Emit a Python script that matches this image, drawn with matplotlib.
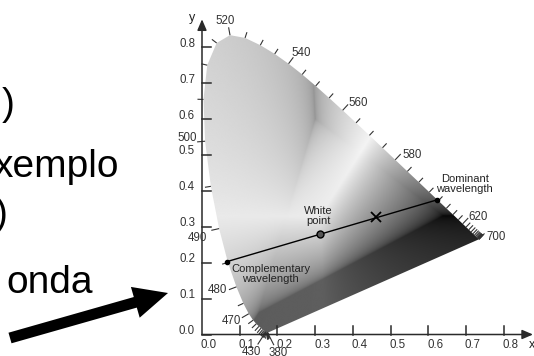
import numpy as np
import matplotlib
matplotlib.use("Agg")
import matplotlib.pyplot as plt
from matplotlib.patches import Polygon, FancyArrow

plt.rcParams['font.family'] = ['Liberation Sans', 'DejaVu Sans']

# CIE 1931 spectral locus (2 degree observer), 5 nm steps
wavelength_nm = list(range(380, 705, 5))
locus_x = [0.1741, 0.1740, 0.1738, 0.1736, 0.1733, 0.1730, 0.1726, 0.1721, 0.1714, 0.1703,
           0.1689, 0.1669, 0.1644, 0.1611, 0.1566, 0.1510, 0.1440, 0.1355, 0.1241, 0.1096,
           0.0913, 0.0687, 0.0454, 0.0235, 0.0082, 0.0039, 0.0139, 0.0389, 0.0743, 0.1142,
           0.1547, 0.1929, 0.2296, 0.2658, 0.3016, 0.3373, 0.3731, 0.4087, 0.4441, 0.4788,
           0.5125, 0.5448, 0.5752, 0.6029, 0.6270, 0.6482, 0.6658, 0.6801, 0.6915, 0.7006,
           0.7079, 0.7140, 0.7190, 0.7230, 0.7260, 0.7283, 0.7300, 0.7311, 0.7320, 0.7327,
           0.7334, 0.7340, 0.7344, 0.7346, 0.7347]
locus_y = [0.0050, 0.0050, 0.0049, 0.0049, 0.0048, 0.0048, 0.0048, 0.0048, 0.0051, 0.0058,
           0.0069, 0.0086, 0.0109, 0.0138, 0.0177, 0.0227, 0.0297, 0.0399, 0.0578, 0.0868,
           0.1327, 0.2007, 0.2950, 0.4127, 0.5384, 0.6548, 0.7502, 0.8120, 0.8338, 0.8262,
           0.8059, 0.7816, 0.7543, 0.7243, 0.6923, 0.6589, 0.6245, 0.5896, 0.5547, 0.5202,
           0.4866, 0.4544, 0.4242, 0.3965, 0.3725, 0.3514, 0.3340, 0.3197, 0.3083, 0.2993,
           0.2920, 0.2859, 0.2809, 0.2770, 0.2740, 0.2717, 0.2700, 0.2689, 0.2680, 0.2673,
           0.2666, 0.2660, 0.2656, 0.2654, 0.2653]

labelled_nm = [380, 430, 470, 480, 490, 500, 520, 540, 560, 580, 620, 700]

white_point = (0.313, 0.280)
complementary_point = (0.0655, 0.2028)
dominant_point = (0.6225, 0.3747)
sample_color = (0.461, 0.3265)

x_ticks = [0.0, 0.1, 0.2, 0.3, 0.4, 0.5, 0.6, 0.7, 0.8]
x_tick_labels = ["0.0", "0.1", "0.2", "0.3", "0.4", "0.5", "0.6", "0.7", "0.8"]
y_ticks = [0.0, 0.1, 0.2, 0.3, 0.4, 0.5, 0.6, 0.7, 0.8]
y_tick_labels = ["0.0", "0.1", "0.2", "0.3", "0.4", "0.5", "0.6", "0.7", "0.8"]

side_text = [")", "xemplo", ")", "onda"]

# ---- layout (pixels) ----
W, H = 534, 356
X0, Y0 = 202.0, 334.5          # pixel position of the chromaticity origin
SX, SY = 377.0, 359.0          # pixels per unit of x and y

fig = plt.figure(figsize=(W / 100, H / 100), dpi=100)
ax = fig.add_axes([0, 0, 1, 1])
ax.set_xlim(-X0 / SX, (W - X0) / SX)
ax.set_ylim(-(H - Y0) / SY, Y0 / SY)
ax.axis('off')


def dpx(dx, dy):
    """pixel offset (right, down) -> data offset"""
    return dx / SX, -dy / SY


# ---- grey rendering of the chromaticity gamut ----
M = np.array([[3.2406, -1.5372, -0.4986],
              [-0.9689, 1.8758, 0.0415],
              [0.0557, -0.2040, 1.0570]])
gx, gy = np.meshgrid(np.linspace(0.0, 0.75, 751), np.linspace(0.001, 0.85, 851))
with np.errstate(all='ignore'):
    XYZ = np.stack([gx / gy, np.ones_like(gx), (1 - gx - gy) / gy])
    rgb = np.einsum('ij,jhw->ihw', M, XYZ)
    rgb = rgb - np.minimum(rgb.min(axis=0), 0)
    rgb = rgb / rgb.max(axis=0)
    r, g, b = np.where(rgb <= 0.0031308, 12.92 * rgb, 1.055 * np.abs(rgb) ** (1 / 2.4) - 0.055)
    grey = 0.008 * r + 0.556 * g + 0.34 * b + 0.37 * r * g * (1 - b) + 0.02
grey = np.clip(np.nan_to_num(grey), 0, 1)

gamut = Polygon(np.column_stack([locus_x, locus_y]), closed=True,
                facecolor='none', edgecolor='none', transform=ax.transData)
ax.add_patch(gamut)
im = ax.imshow(grey, cmap='gray', vmin=0, vmax=1, origin='lower',
               extent=[0.0, 0.75, 0.001, 0.85], interpolation='bilinear', aspect='auto', zorder=1)
im.set_clip_path(gamut)

# ---- axes with arrow heads ----
axis_col = '#2a2a2a'
ax.annotate('', xy=(0, 0.878), xytext=(0, 0), zorder=4,
            arrowprops=dict(arrowstyle='-|>,head_length=0.65,head_width=0.28',
                            color=axis_col, lw=1.1, mutation_scale=10, shrinkA=0, shrinkB=0))
ax.annotate('', xy=(0.878, 0), xytext=(0, 0), zorder=4,
            arrowprops=dict(arrowstyle='-|>,head_length=0.65,head_width=0.28',
                            color=axis_col, lw=1.1, mutation_scale=10, shrinkA=0, shrinkB=0))

tick_fs = 8.3
for t, lab in zip(y_ticks, y_tick_labels):
    ax.plot([0, dpx(9, 0)[0]], [t, t], color=axis_col, lw=1.1, zorder=4)
    ax.text(dpx(-7, 0)[0], t + dpx(0, -3.5)[1], lab, fontsize=tick_fs, color='#333333',
            ha='right', va='center')
for t, lab in zip(x_ticks, x_tick_labels):
    if t > 0:
        ax.plot([t, t], [0, dpx(0, -9)[1]], color=axis_col, lw=1.1, zorder=4)
    ax.text(t + dpx(7, 0)[0], dpx(0, 11)[1], lab, fontsize=tick_fs, color='#333333',
            ha='center', va='center')
ax.text(dpx(-10, 0)[0], dpx(0, -317)[1], 'y', fontsize=9, color='#222222', ha='center', va='center')
ax.text(0.867, dpx(0, 10)[1], 'x', fontsize=9, color='#222222', ha='left', va='center')

# ---- wavelength ticks on the locus ----
lx = np.array(locus_x)
ly = np.array(locus_y)
tx = np.gradient(lx * SX)
ty = np.gradient(ly * SY)
nrm = np.hypot(tx, ty)
nx, ny = -ty / nrm, tx / nrm
for i, wl in enumerate(wavelength_nm):
    L = 8 if wl in labelled_nm and wl not in (380, 430) else 6
    ax.plot([lx[i], lx[i] + nx[i] * L / SX], [ly[i], ly[i] + ny[i] * L / SY],
            color='#333333', lw=0.8, zorder=3, solid_capstyle='butt')

label_offset = {380: (11, 20), 430: (-14, 20), 470: (-17, 7), 480: (-19, 3), 490: (-22, 9),
                500: (-17.5, -3), 520: (-5, -14), 540: (13, -11), 560: (16, -7),
                580: (17, -5), 620: (15, -7), 700: (17, -2)}
for wl in labelled_nm:
    i = wavelength_nm.index(wl)
    ox, oy = dpx(*label_offset[wl])
    ax.text(lx[i] + ox, ly[i] + oy, str(wl), fontsize=tick_fs, color='#333333',
            ha='center', va='center', zorder=5)
    if wl in (380, 430):
        ex, ey = dpx(label_offset[wl][0] * 0.55, 12)
        ax.plot([lx[i], lx[i] + ex], [ly[i], ly[i] + ey], color='#333333', lw=0.8, zorder=3)

# ---- dominant / complementary wavelength construction ----
ax.plot([complementary_point[0], dominant_point[0]],
        [complementary_point[1], dominant_point[1]], color='black', lw=1.0, zorder=5)
ax.plot(*complementary_point, 'o', color='black', ms=3, zorder=6)
ax.plot(*dominant_point, 'o', color='black', ms=3, zorder=6)
ax.plot(*white_point, 'o', mfc='#555555', mec='black', ms=5, mew=1.0, zorder=6)
ax.plot(*sample_color, 'x', color='black', ms=7, mew=1.3, zorder=6)

ann_fs = 8.0
ax.annotate('White\npoint', xy=white_point, xytext=(-2, 18), textcoords='offset pixels',
            fontsize=ann_fs, color='#222222', ha='center', va='center', linespacing=1.0, zorder=6)
ax.annotate('Complementary\nwavelength', xy=complementary_point, xytext=(44, -12),
            textcoords='offset pixels', fontsize=ann_fs, color='#222222', ha='center',
            va='center', linespacing=1.0, zorder=6)
ax.annotate('Dominant\nwavelength', xy=dominant_point, xytext=(28, 16),
            textcoords='offset pixels', fontsize=ann_fs, color='#222222', ha='center',
            va='center', linespacing=1.0, zorder=6)

# ---- side text and pointer arrow (pixel overlay) ----
ov = fig.add_axes([0, 0, 1, 1], zorder=10)
ov.set_xlim(0, W)
ov.set_ylim(H, 0)
ov.axis('off')
ov.patch.set_alpha(0)

side_pos = [(15, 115), (119, 177), (8, 225), (93, 293)]
for txt, (x, y) in zip(side_text, side_pos):
    ov.text(x, y, txt, fontsize=28, color='black', ha='right', va='baseline')

ov.add_patch(FancyArrow(10, 338, 158, -45, width=11, head_width=32, head_length=34,
                        length_includes_head=True, color='black', lw=0))

fig.savefig('out.png', dpi=100)
